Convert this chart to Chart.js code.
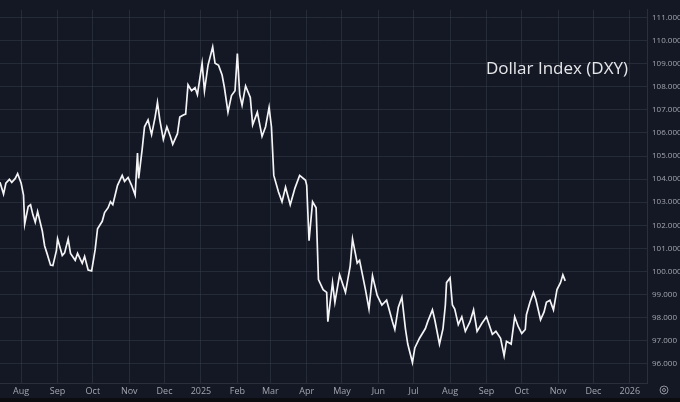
<!DOCTYPE html>
<html>
<head>
<meta charset="utf-8">
<script src="https://cdn.jsdelivr.net/npm/chart.js@4/dist/chart.umd.min.js"></script>
<style>
  html, body { margin: 0; padding: 0; background: #0c0d10; }
  #wrap { width: 680px; height: 398px; background: #141824; }
</style>
</head>
<body>
<div id="wrap"><canvas id="dxy" width="680" height="398"></canvas></div>
<script>
// days counted from 2024-07-01
var days = [
  13, 16, 18, 21, 23, 26, 28, 31, 33, 34, 37, 39, 41, 43, 45, 49, 51, 53, 56, 58,
  61, 62, 66, 68, 71, 73, 77, 79, 83, 85, 88, 91, 94, 96, 100, 102, 105, 107, 109, 111,
  113, 117, 119, 122, 125, 128, 130, 131, 134, 136, 139, 142, 145, 147, 149, 152, 155, 158, 160, 164,
  166, 169, 171, 173, 176, 179, 181, 185, 187, 190, 194, 196, 199, 202, 204, 207, 210, 213, 215, 217,
  219, 222, 226, 228, 232, 236, 239, 242, 244, 246, 250, 253, 256, 260, 264, 268, 273, 274, 276, 279,
  282, 284, 288, 291, 292, 296, 298, 302, 307, 311, 313, 317, 319, 324, 327, 330, 334, 338, 342, 347,
  349, 352, 355, 358, 360, 364, 366, 370, 375, 377, 381, 383, 387, 390, 392, 393, 396, 398, 400, 403,
  406, 409, 413, 416, 419, 423, 427, 432, 435, 439, 442, 444, 448, 451, 454, 457, 460, 461, 464, 467,
  469, 473, 476, 478, 481, 484, 487, 490, 492, 494
];
var dxy = [
  103.86, 103.35, 103.82, 103.99, 103.86, 104.03, 104.24, 103.82, 103.31, 102.05, 102.81, 102.89, 102.45, 102.13, 102.59, 101.75, 101.10, 100.78, 100.27, 100.25,
  100.90, 101.41, 100.69, 100.80, 101.41, 100.78, 100.48, 100.78, 100.35, 100.65, 100.06, 100.02, 100.95, 101.85, 102.17, 102.55, 102.76, 103.02, 102.89, 103.31,
  103.73, 104.16, 103.90, 104.07, 103.73, 103.31, 105.13, 104.03, 105.30, 106.27, 106.57, 105.93, 106.69, 107.33, 106.57, 105.72, 106.27, 105.85, 105.51, 105.97,
  106.69, 106.78, 106.82, 108.09, 107.83, 107.96, 107.66, 109.02, 107.83, 108.93, 109.73, 109.02, 108.93, 108.51, 107.96, 106.90, 107.62, 107.83, 109.44, 107.66,
  107.20, 108.04, 107.54, 106.35, 106.90, 105.85, 106.27, 107.11, 106.27, 104.16, 103.44, 103.02, 103.65, 102.89, 103.61, 104.16, 103.95, 103.73, 101.33, 103.02,
  102.76, 99.64, 99.21, 99.09, 97.82, 99.51, 98.66, 99.85, 99.09, 100.23, 101.41, 100.36, 100.48, 99.21, 98.37, 99.81, 98.96, 98.54, 98.75, 97.82,
  97.48, 98.45, 98.88, 97.52, 96.85, 96.05, 96.68, 97.10, 97.52, 97.82, 98.33, 97.90, 96.85, 97.52, 98.54, 99.51, 99.72, 98.54, 98.37, 97.69,
  98.03, 97.40, 97.82, 98.33, 97.40, 97.74, 98.03, 97.27, 97.40, 97.10, 96.34, 96.97, 96.85, 98.03, 97.61, 97.31, 97.48, 98.12, 98.66, 99.09,
  98.79, 97.90, 98.24, 98.66, 98.75, 98.33, 99.21, 99.51, 99.85, 99.59
];

// month starts (days from 2024-07-01) and their labels
var monthDays = [31, 62, 92, 123, 153, 184, 215, 243, 274, 304, 335, 365, 396, 427, 457, 488, 518, 549];
var monthLabels = ['Aug', 'Sep', 'Oct', 'Nov', 'Dec', '2025', 'Feb', 'Mar', 'Apr', 'May', 'Jun', 'Jul', 'Aug', 'Sep', 'Oct', 'Nov', 'Dec', '2026'];
var priceTicks = [96, 97, 98, 99, 100, 101, 102, 103, 104, 105, 106, 107, 108, 109, 110, 111];

var points = days.map(function (d, i) { return { x: d, y: dxy[i] }; });

var gridColor = 'rgba(60, 66, 82, 0.45)';
var labelColor = '#a3a6af';

// title text and the little settings icon
var overlay = {
  id: 'overlay',
  afterDraw: function (chart) {
    var ctx = chart.ctx;
    var area = chart.chartArea;
    ctx.save();
    ctx.fillStyle = '#e6e7ea';
    ctx.font = '17px "Open Sans", sans-serif';
    ctx.textAlign = 'right';
    ctx.textBaseline = 'middle';
    ctx.fillText('Dollar Index (DXY)', area.right - 19, 69);

    ctx.strokeStyle = '#8d909a';
    ctx.lineWidth = 1;
    ctx.beginPath();
    ctx.arc(area.right + 17, area.bottom + 7, 4, 0, Math.PI * 2);
    ctx.stroke();
    ctx.beginPath();
    ctx.arc(area.right + 17, area.bottom + 7, 1.5, 0, Math.PI * 2);
    ctx.stroke();
    ctx.restore();
  }
};

new Chart(document.getElementById('dxy'), {
  type: 'line',
  data: {
    datasets: [{
      data: points,
      borderColor: '#f4f4f6',
      borderWidth: 1.7,
      pointRadius: 0,
      tension: 0,
      fill: false
    }]
  },
  options: {
    responsive: false,
    animation: false,
    layout: { padding: 0 },
    plugins: {
      legend: { display: false },
      tooltip: { enabled: false }
    },
    scales: {
      x: {
        type: 'linear',
        min: 13,
        max: 563.6,
        afterBuildTicks: function (scale) {
          scale.ticks = monthDays.map(function (d) { return { value: d }; });
        },
        afterFit: function (scale) { scale.height = 15; },
        ticks: {
          autoSkip: false,
          maxRotation: 0,
          padding: 3,
          color: labelColor,
          font: { family: '"Open Sans", sans-serif', size: 9 },
          callback: function (value) {
            var i = monthDays.indexOf(value);
            return i >= 0 ? monthLabels[i] : '';
          }
        },
        grid: { color: gridColor, drawTicks: false },
        border: { color: '#2b2f3b' }
      },
      y: {
        position: 'right',
        min: 95.16,
        max: 111.34,
        afterBuildTicks: function (scale) {
          scale.ticks = priceTicks.map(function (v) { return { value: v }; });
        },
        afterFit: function (scale) { scale.width = 33; },
        ticks: {
          padding: 5,
          color: labelColor,
          font: { family: '"Open Sans", sans-serif', size: 8 },
          callback: function (value) { return value.toFixed(3); }
        },
        grid: { color: gridColor, drawTicks: false },
        border: { color: '#2b2f3b' }
      }
    }
  },
  plugins: [overlay]
});
</script>
</body>
</html>
